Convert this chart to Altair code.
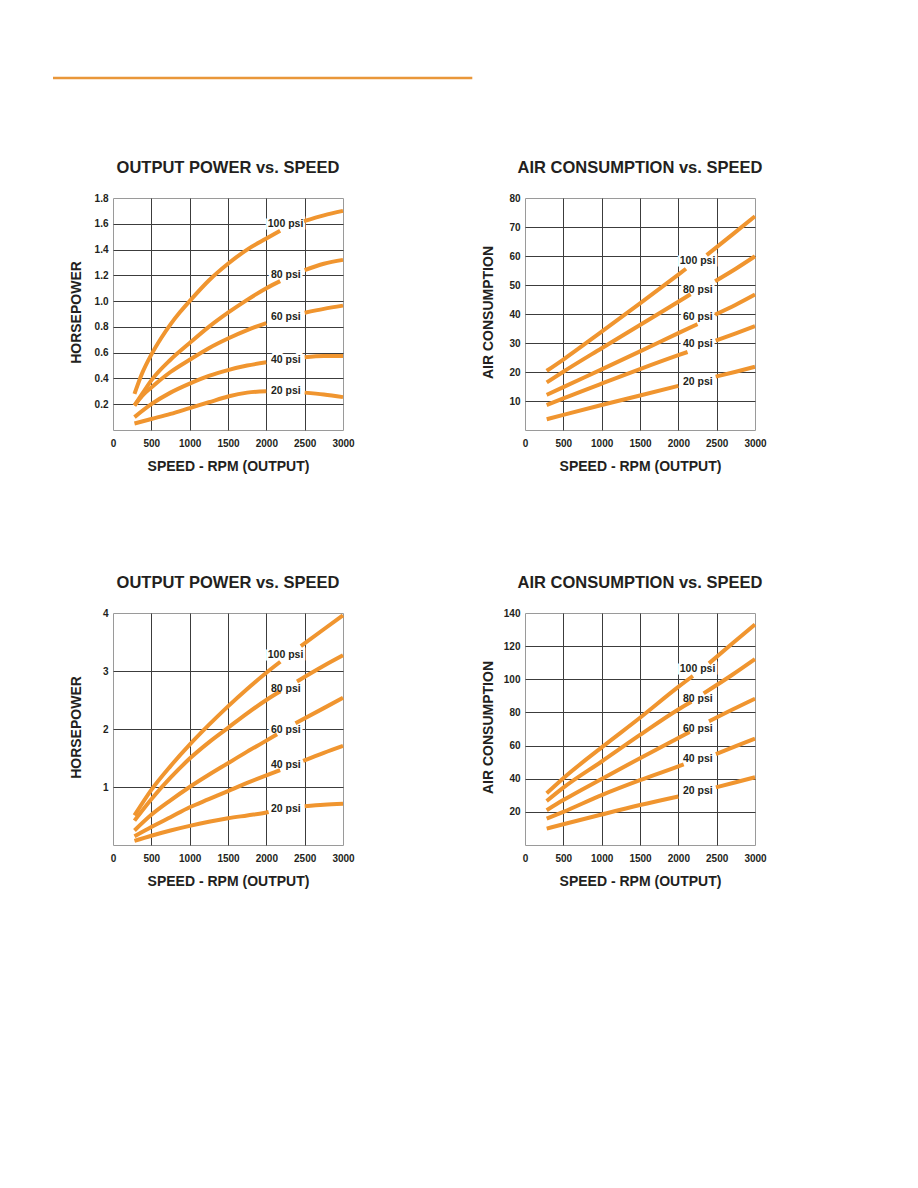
import altair as alt
import pandas as pd

# ---------------- data ----------------
X_TICKS = [0, 500, 1000, 1500, 2000, 2500, 3000]
PSI = ["100 psi", "80 psi", "60 psi", "40 psi", "20 psi"]
LABEL_RPM = [2250, 2255, 2255, 2255, 2255]

# Output power vs speed (top) : (rpm seg1, hp seg1, rpm seg2, hp seg2)
POWER1_Y_TICKS = [0.2, 0.4, 0.6, 0.8, 1.0, 1.2, 1.4, 1.6, 1.8]
POWER1 = {
    "100 psi": ([280, 380, 500, 625, 750, 875, 1000, 1250, 1500, 1750, 2000, 2180],
                [0.28, 0.44, 0.585, 0.71, 0.82, 0.915, 1.00, 1.16, 1.29, 1.40, 1.485, 1.545],
                [2490, 2750, 3000], [1.62, 1.665, 1.70]),
    "80 psi": ([280, 380, 500, 750, 1000, 1250, 1500, 1750, 2000, 2180],
               [0.19, 0.28, 0.385, 0.545, 0.675, 0.80, 0.91, 1.01, 1.10, 1.155],
               [2500, 2750, 3000], [1.24, 1.29, 1.32]),
    "60 psi": ([280, 380, 500, 750, 1000, 1250, 1500, 1750, 2000],
               [0.19, 0.265, 0.33, 0.45, 0.545, 0.635, 0.71, 0.775, 0.83],
               [2500, 2750, 3000], [0.91, 0.94, 0.965]),
    "40 psi": ([280, 500, 750, 1000, 1250, 1500, 1750, 2000],
               [0.10, 0.20, 0.29, 0.36, 0.42, 0.465, 0.50, 0.525],
               [2500, 2750, 3000], [0.565, 0.575, 0.575]),
    "20 psi": ([280, 500, 750, 1000, 1250, 1500, 1750, 2000],
               [0.05, 0.085, 0.125, 0.17, 0.215, 0.26, 0.29, 0.30],
               [2500, 2750, 3000], [0.29, 0.275, 0.255]),
}
POWER1_LABEL_Y = [1.60, 1.20, 0.878, 0.543, 0.306]

# Air consumption vs speed (top)
AIR1_Y_TICKS = [10, 20, 30, 40, 50, 60, 70, 80]
AIR1 = {
    "100 psi": ([283, 500, 1000, 1500, 2000, 2100], [20.4, 24.3, 33.9, 43.7, 53.6, 55.6],
                [2370, 2700, 3000], [60.3, 67.3, 73.7]),
    "80 psi": ([283, 500, 1000, 1500, 2000, 2160], [16.4, 20.1, 28.2, 36.2, 44.2, 46.8],
               [2480, 2750, 3000], [51.3, 55.6, 59.9]),
    "60 psi": ([283, 500, 1000, 1500, 2000, 2250], [12.1, 14.8, 20.9, 27.1, 33.4, 36.5],
               [2480, 2750, 3000], [39.8, 43.2, 46.7]),
    "40 psi": ([283, 500, 1000, 1500, 2000, 2120], [8.6, 10.9, 16.0, 21.0, 25.8, 26.9],
               [2487, 2750, 3000], [30.8, 33.3, 35.8]),
    "20 psi": ([283, 500, 1000, 1500, 2000], [3.7, 5.2, 8.6, 11.9, 15.2],
               [2487, 2750, 3000], [18.4, 20.1, 21.8]),
}
AIR1_LABEL_Y = [58.2, 48.4, 39.0, 29.5, 16.6]

# Output power vs speed (bottom)
POWER2_Y_TICKS = [1, 2, 3, 4]
POWER2 = {
    "100 psi": ([280, 500, 750, 1000, 1250, 1500, 1750, 2000, 2183],
                [0.51, 0.95, 1.36, 1.73, 2.07, 2.39, 2.69, 2.97, 3.16],
                [2450, 2750, 3000], [3.43, 3.72, 3.96]),
    "80 psi": ([280, 500, 750, 1000, 1250, 1500, 1750, 2000, 2183],
               [0.42, 0.79, 1.16, 1.49, 1.77, 2.02, 2.27, 2.50, 2.65],
               [2400, 2750, 3000], [2.82, 3.09, 3.27]),
    "60 psi": ([280, 500, 750, 1000, 1250, 1500, 1750, 2000, 2140],
               [0.25, 0.52, 0.77, 1.00, 1.21, 1.41, 1.61, 1.80, 1.91],
               [2380, 2750, 3000], [2.10, 2.36, 2.54]),
    "40 psi": ([280, 500, 750, 1000, 1250, 1500, 1750, 2000, 2180],
               [0.15, 0.31, 0.48, 0.65, 0.79, 0.93, 1.07, 1.20, 1.29],
               [2480, 2750, 3000], [1.45, 1.59, 1.71]),
    "20 psi": ([280, 500, 750, 1000, 1250, 1500, 1750, 2000, 2030],
               [0.07, 0.16, 0.25, 0.33, 0.40, 0.46, 0.51, 0.56, 0.57],
               [2500, 2750, 3000], [0.67, 0.695, 0.71]),
}
POWER2_LABEL_Y = [3.28, 2.69, 1.99, 1.38, 0.62]

# Air consumption vs speed (bottom)
AIR2_Y_TICKS = [20, 40, 60, 80, 100, 120, 140]
AIR2 = {
    "100 psi": ([283, 500, 1000, 1500, 2000, 2190], [31.2, 40.3, 58.9, 76.8, 95.4, 102.0],
                [2400, 2700, 3000], [109.6, 121.5, 133.1]),
    "80 psi": ([283, 500, 1000, 1500, 2000, 2170], [26.5, 34.6, 50.4, 66.4, 81.8, 86.4],
               [2330, 2700, 3000], [91.5, 102.6, 112.2]),
    "60 psi": ([283, 500, 1000, 1500, 2000, 2150], [21.0, 27.1, 39.9, 52.4, 64.6, 68.2],
               [2400, 2700, 3000], [74.6, 81.6, 88.3]),
    "40 psi": ([283, 500, 1000, 1500, 2000, 2070], [15.9, 20.0, 30.1, 39.1, 47.4, 48.6],
               [2490, 2750, 3000], [54.9, 59.6, 64.2]),
    "20 psi": ([283, 500, 1000, 1500, 2000], [9.9, 12.5, 18.4, 24.1, 29.3],
               [2490, 2750, 3000], [34.8, 37.9, 40.9]),
}
AIR2_LABEL_Y = [106.2, 87.9, 70.0, 51.8, 32.8]

TITLE_POWER = "OUTPUT POWER vs. SPEED"
TITLE_AIR = "AIR CONSUMPTION vs. SPEED"
X_TITLE = "SPEED - RPM (OUTPUT)"

# ---------------- style ----------------
ORANGE = "#F0952F"
RULE_ORANGE = "#E9973A"
INK = "#231f20"
FONT = "Liberation Sans"
NARROW = "Liberation Sans Narrow, Arial Narrow, Liberation Sans, sans-serif"
W, H = 230, 232


def panel(series, label_y, ymax, yticks, yfmt, ytitle, title, top_rule=False):
    rows = []
    for name, (xa, ya, xb, yb) in series.items():
        for x, y in zip(xa, ya):
            rows.append({"psi": name, "seg": name + "-a", "rpm": x, "val": y})
        for x, y in zip(xb, yb):
            rows.append({"psi": name, "seg": name + "-b", "rpm": x, "val": y})
    df = pd.DataFrame(rows)
    lab = pd.DataFrame({"psi": PSI, "rpm": LABEL_RPM, "val": label_y})

    x = alt.X(
        "rpm:Q",
        scale=alt.Scale(domain=[0, 3000], nice=False, zero=False),
        axis=alt.Axis(
            values=X_TICKS, format="d", title=X_TITLE, domain=False, ticks=False,
            tickSize=0, labelFlush=False, labelPadding=8, labelFont=NARROW,
            labelFontSize=10, labelFontWeight="bold", labelColor=INK,
            gridColor={"condition": {"test": "datum.value === 0 || datum.value === 3000",
                                     "value": "transparent"}, "value": "#3c3c3c"},
            titleFont=FONT, titleFontSize=14, titleFontWeight="bold", titleColor=INK,
            titleX=W / 2, titleY=36, titleAlign="center", titleBaseline="middle",
        ),
    )
    y = alt.Y(
        "val:Q",
        scale=alt.Scale(domain=[0, ymax], nice=False, zero=True),
        axis=alt.Axis(
            values=yticks, format=yfmt, title=ytitle, domain=False, ticks=False,
            tickSize=0, labelFlush=False, labelPadding=5, labelFont=NARROW,
            labelFontSize=10, labelFontWeight="bold", labelColor=INK,
            gridColor={"condition": {"test": f"datum.value >= {ymax}",
                                     "value": "transparent"}, "value": "#3c3c3c"},
            titleFont=FONT, titleFontSize=14, titleFontWeight="bold", titleColor=INK,
            titleAngle=270, titleX=-37, titleY=H / 2 - 2, titleAlign="center",
            titleBaseline="middle",
        ),
    )

    halo = alt.Chart(lab).mark_text(
        font=NARROW, fontSize=10.5, fontWeight="bold", fill="white",
        stroke="white", strokeWidth=5,
    ).encode(x=x, y=y, text="psi:N")
    lines = alt.Chart(df).mark_line(
        color=ORANGE, strokeWidth=4, interpolate="monotone", strokeCap="butt"
    ).encode(x=x, y=y, detail="seg:N")
    txt = alt.Chart(lab).mark_text(
        font=NARROW, fontSize=10.5, fontWeight="bold", color=INK
    ).encode(x=x, y=y, text="psi:N")
    ttl = alt.Chart(pd.DataFrame({"t": [title]})).mark_text(
        font=FONT, fontSize=16.5, fontWeight="bold", color=INK,
        align="center", baseline="alphabetic",
    ).encode(x=alt.value(W / 2), y=alt.value(-25.5), text="t:N")

    layers = [halo, lines, txt, ttl]
    if top_rule:
        rule = alt.Chart(pd.DataFrame({"k": [0]})).mark_rule(
            color=RULE_ORANGE, strokeWidth=2.5
        ).encode(x=alt.value(-60), x2=alt.value(359.3), y=alt.value(-120))
        layers.append(rule)
    return alt.layer(*layers).properties(width=W, height=H)


a = panel(POWER1, POWER1_LABEL_Y, 1.8, POWER1_Y_TICKS, ".1f", "HORSEPOWER", TITLE_POWER, top_rule=True)
b = panel(AIR1, AIR1_LABEL_Y, 80, AIR1_Y_TICKS, "d", "AIR CONSUMPTION", TITLE_AIR)
c = panel(POWER2, POWER2_LABEL_Y, 4, POWER2_Y_TICKS, "d", "HORSEPOWER", TITLE_POWER)
d = panel(AIR2, AIR2_LABEL_Y, 140, AIR2_Y_TICKS, "d", "AIR CONSUMPTION", TITLE_AIR)

chart = alt.concat(
    a, b, c, d, columns=2, spacing={"row": 183, "column": 182}, bounds="flush"
).properties(
    padding={"left": 43, "top": 68, "right": 10, "bottom": 10},
    background="white",
).configure_view(stroke="#9a9a9a", strokeWidth=1)

chart.save("out.html", embed_options={"renderer": "svg", "actions": False})
